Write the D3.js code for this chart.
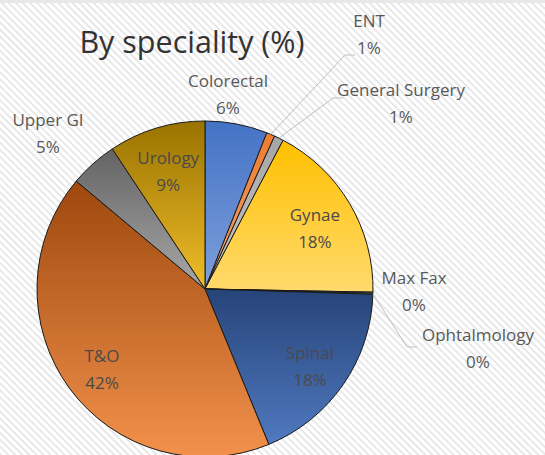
<!DOCTYPE html>
<html>
<head>
<meta charset="utf-8">
<script src="https://cdn.jsdelivr.net/npm/d3@7"></script>
<style>
  html, body { margin: 0; padding: 0; background: #fff; }
  svg { display: block; font-family: "Open Sans", sans-serif; }
</style>
</head>
<body>
<svg></svg>
<script>
var width = 545
var height = 455

// data (percent)
var categories = ['Colorectal', 'ENT', 'General Surgery', 'Gynae', 'Max Fax', 'Ophtalmology', 'Spinal', 'T&O', 'Upper GI', 'Urology']
var values = [6.0, 0.8, 0.9, 17.6, 0.1, 0.1, 18.3, 42.3, 4.6, 9.3]
var colors = ['#4472c4', '#ed7d31', '#a5a5a5', '#ffc000', '#5b9bd5', '#70ad47', '#264478', '#9e480e', '#636363', '#997300']
var lightColors = ['#7ea0dc', '#f4a06a', '#c8c8c8', '#ffda6e', '#8dbbe6', '#9ccc7a', '#5079c0', '#f2914b', '#a8a8a8', '#f0bd2a']

// label layout: 'in' = inside the slice, else [x, y] offset from centre (+ optional leader line)
var labelLayout = [
	{pos: [23, -195]},
	{pos: [164, -255], leader: [[140, -234], [150, -234]]},
	{pos: [196, -186], leader: [[128, -191], [138, -191]]},
	{pos: 'in'},
	{pos: [209, 2]},
	{pos: [273, 59], leader: [[202, 58], [212, 58]]},
	{pos: 'in'},
	{pos: 'in'},
	{pos: [-157, -156]},
	{pos: 'in'}
]

var cx = 205, cy = 289, radius = 168

var svg = d3.select('svg').attr('width', width).attr('height', height)
var defs = svg.append('defs')

// hatched chart background
var pattern = defs.append('pattern')
	.attr('id', 'hatch')
	.attr('patternUnits', 'userSpaceOnUse')
	.attr('width', 5).attr('height', 5)
	.attr('patternTransform', 'rotate(45)')
pattern.append('rect').attr('width', 5).attr('height', 5).attr('fill', '#ffffff')
pattern.append('rect').attr('width', 5).attr('height', 1.6).attr('fill', '#e3e3e3')

svg.append('rect').attr('width', width).attr('height', height).attr('fill', 'url(#hatch)')
svg.append('rect').attr('width', width).attr('height', 3).attr('fill', '#e8e8e8')

// one vertical gradient per slice
colors.forEach(function(c, i) {
	var g = defs.append('linearGradient')
		.attr('id', 'grad' + i)
		.attr('x1', 0).attr('y1', 0).attr('x2', 0).attr('y2', 1)
	g.append('stop').attr('offset', '0%').attr('stop-color', c)
	g.append('stop').attr('offset', '100%').attr('stop-color', lightColors[i])
})

var pie = d3.pie().sort(null).value(function(d) {return d})
var arcs = pie(values)

var arc = d3.arc().innerRadius(0).outerRadius(radius)
var labelArc = d3.arc().innerRadius(radius * 0.76).outerRadius(radius * 0.76)

var chart = svg.append('g').attr('transform', 'translate(' + cx + ',' + cy + ')')

chart.selectAll('path.slice')
	.data(arcs)
	.enter().append('path')
	.attr('class', 'slice')
	.attr('d', arc)
	.attr('fill', function(d, i) {return 'url(#grad' + i + ')'})
	.attr('stroke', '#1a1a1a')
	.attr('stroke-width', 1)
	.attr('stroke-linejoin', 'round')

// leader lines
chart.selectAll('polyline.leader')
	.data(arcs.filter(function(d, i) {return labelLayout[i].leader}))
	.enter().append('polyline')
	.attr('class', 'leader')
	.attr('fill', 'none')
	.attr('stroke', '#bfbfbf')
	.attr('stroke-width', 1)
	.attr('points', function(d) {
		var a = (d.startAngle + d.endAngle) / 2
		var start = [Math.sin(a) * radius, -Math.cos(a) * radius]
		var pts = [start].concat(labelLayout[d.index].leader)
		return pts.map(function(p) {return p.join(',')}).join(' ')
	})

// labels
var labels = chart.selectAll('text.label')
	.data(arcs)
	.enter().append('text')
	.attr('class', 'label')
	.attr('text-anchor', 'middle')
	.attr('font-size', 17)
	.attr('fill', function(d, i) {return labelLayout[i].pos === 'in' ? '#4a4a4a' : '#595959'})
	.attr('transform', function(d, i) {
		var p = labelLayout[i].pos === 'in' ? labelArc.centroid(d) : labelLayout[i].pos
		if (labelLayout[i].pos === 'in') p = [p[0], p[1] + 4]
		return 'translate(' + p[0] + ',' + p[1] + ')'
	})

labels.append('tspan')
	.attr('x', 0).attr('dy', '-0.4em')
	.text(function(d, i) {return categories[i]})
labels.append('tspan')
	.attr('x', 0).attr('dy', '1.6em')
	.text(function(d) {return Math.round(d.data) + '%'})

// title
svg.append('text')
	.attr('x', 192).attr('y', 53)
	.attr('text-anchor', 'middle')
	.attr('font-size', 30.5)
	.attr('fill', '#333333')
	.text('By speciality (%)')
</script>
</body>
</html>
